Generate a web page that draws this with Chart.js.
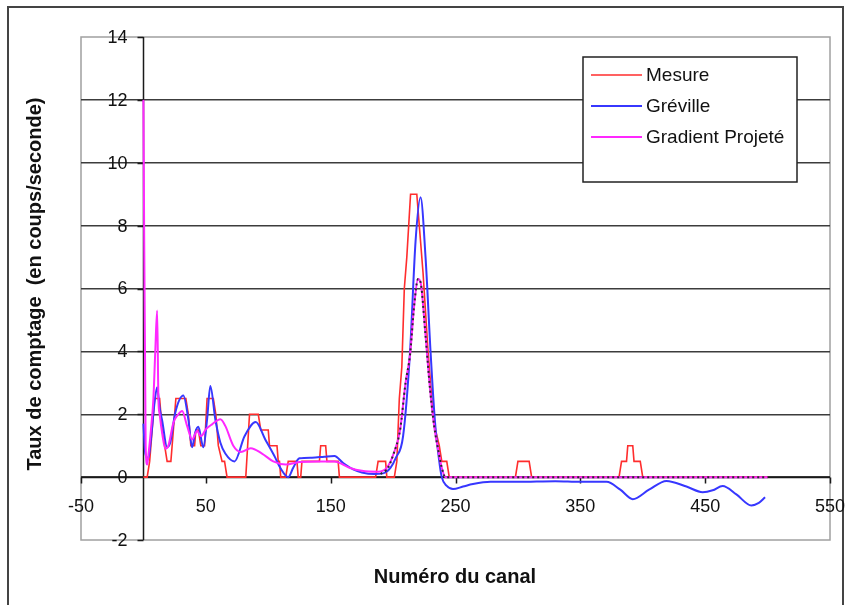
<!DOCTYPE html>
<html lang="fr">
<head>
<meta charset="UTF-8">
<title>Taux de comptage</title>
<script src="https://cdn.jsdelivr.net/npm/chart.js@4"></script>
<style>
  body { margin: 0; background: #fff; }
  #wrap { width: 850px; height: 605px; }
</style>
</head>
<body>
<div id="wrap"><canvas id="spectre"></canvas></div>
<script>
// [canal, taux] pairs for each curve
const mesure = [
  [0, 0], [3, 0], [5, 0.5], [7, 1.5], [9, 2.5], [13, 2.5], [15, 1.5], [17, 1.0], [19, 0.5], [22, 0.5],
  [24, 1.5], [26, 2.5], [34, 2.5], [36, 2.0], [38, 1.0], [41, 1.0], [42, 1.5], [44, 1.5], [46, 1.0],
  [49, 1.0], [51, 2.5], [56, 2.5], [58, 2.0], [60, 1.0], [63, 0.5], [65, 0.5], [67, 0], [82, 0],
  [85, 2.0], [92, 2.0], [94, 1.5], [100, 1.5], [101, 1.0], [107, 1.0], [108, 0.5], [109, 0.5],
  [110, 0], [114, 0], [116, 0.5], [123, 0.5], [124, 0], [126, 0], [127, 0.5], [141, 0.5], [142, 1.0],
  [146, 1.0], [147, 0.5], [156, 0.5], [157, 0], [186, 0], [188, 0.5], [194, 0.5], [195, 0], [201, 0],
  [203, 0.5], [205, 2.5], [207, 3.5], [209, 6], [211, 7], [214, 9], [219, 9], [221, 8], [224, 6.5],
  [228, 4], [232, 2], [234, 1.5], [237, 1.0], [239, 0.5], [243, 0.5], [245, 0], [298, 0], [300, 0.5],
  [309, 0.5], [311, 0], [381, 0], [383, 0.5], [387, 0.5], [388, 1.0], [392, 1.0], [393, 0.5],
  [398, 0.5], [400, 0], [500, 0]
];
const greville = [
  [0, 1.7], [1.5, 0.75], [4, 0.6], [6, 1.2], [9, 2.4], [11, 2.86], [13, 2.2], [15, 1.8], [19, 0.95],
  [21.5, 1.1], [25.5, 2.05], [32, 2.6], [36, 1.84], [39, 0.95], [41.5, 1.42], [44, 1.6], [48, 0.95],
  [51, 1.84], [53.6, 2.9], [57.6, 1.84], [61.6, 1.1], [65.6, 0.75], [73, 0.5], [81, 1.3], [90, 1.75],
  [97.6, 1.2], [105.6, 0.62], [109.6, 0.3], [116, 0], [120, 0.3], [125, 0.6], [135, 0.62], [145, 0.65],
  [153, 0.67], [160, 0.45], [168, 0.25], [175, 0.15], [185, 0.1], [192, 0.12], [198, 0.3], [202, 0.6],
  [208, 1.3], [213.6, 4.0], [218, 7.5], [222, 8.9], [226, 7.0], [230, 4.0], [233.6, 1.74], [237, 0.5],
  [239, 0], [243, -0.28], [248, -0.38], [256, -0.3], [264, -0.22], [278, -0.15], [300, -0.15],
  [330, -0.13], [350, -0.15], [371, -0.15], [382, -0.4], [392, -0.7], [405, -0.4], [419, -0.12],
  [435, -0.3], [448, -0.48], [456, -0.42], [464, -0.28], [475, -0.55], [487, -0.9], [493, -0.82],
  [498, -0.64]
];
const gradient = [
  [0, 12], [1.8, 1.0], [3, 0.4], [4, 0.7], [6, 1.5], [8, 2.5], [9.5, 4], [11, 5.3], [12, 2.5], [13, 2.0],
  [15, 1.4], [17.6, 0.9], [20, 1.0], [24, 1.73], [28, 2.0], [31, 2.1], [35, 1.63], [39, 1.2], [43, 1.47],
  [46, 1.3], [50, 1.52], [55, 1.68], [61.6, 1.84], [65.6, 1.63], [72, 1.0], [78, 0.8], [86, 0.92],
  [95, 0.75], [104, 0.5], [114, 0.4], [125, 0.48], [140, 0.5], [153, 0.5], [165, 0.3], [175, 0.2],
  [188, 0.17], [195, 0.3], [200, 0.7], [205.6, 1.5], [210, 3.0], [213.6, 3.9], [217, 5.5], [220, 6.3],
  [222, 6.2], [226, 4.5], [229.6, 2.8], [233, 1.6], [236, 0.9], [239, 0.3], [242, 0], [500, 0]
];
const ajustement = [
  [190, 0.1], [196, 0.3], [200, 0.7], [205.6, 1.5], [210, 3.0], [213.6, 3.9], [217, 5.5], [220, 6.3],
  [222, 6.2], [226, 4.5], [229.6, 2.8], [233, 1.6], [236, 0.9], [239, 0.3], [242, 0], [500, 0]
];

const xTicks = [-50, 50, 150, 250, 350, 450, 550];
const yTicks = [-2, 0, 2, 4, 6, 8, 10, 12, 14];
const serieNames = ["Mesure", "Gréville", "Gradient Projeté"];
const xTitle = "Numéro du canal";
const yTitle = "Taux de comptage  (en coups/seconde)";

const FONT = "'Liberation Sans', Arial, sans-serif";
const RED = "rgb(255, 45, 45)";
const BLUE = "rgb(55, 55, 255)";
const MAGENTA = "rgb(255, 40, 255)";

const toXY = arr => arr.map(p => ({ x: p[0], y: p[1] }));

// frame, plot border, axes through the origin, labels and the legend box
const decor = {
  id: "decor",
  beforeDraw(chart) {
    const c = chart.ctx, a = chart.chartArea;
    c.save();
    c.fillStyle = "#fff";
    c.fillRect(0, 0, chart.width, chart.height);
    c.strokeStyle = "#444";
    c.lineWidth = 2;
    c.strokeRect(8, 7, 835, 620);
    c.strokeStyle = "#a0a0a0";
    c.lineWidth = 1.5;
    c.strokeRect(a.left, a.top, a.right - a.left, a.bottom - a.top);
    c.restore();
  },
  beforeDatasetsDraw(chart) {
    const c = chart.ctx, a = chart.chartArea;
    const sx = chart.scales.x, sy = chart.scales.y;
    const x0 = Math.round(sx.getPixelForValue(0)) + 0.5;
    const y0 = Math.round(sy.getPixelForValue(0)) + 0.5;
    c.save();
    c.strokeStyle = "#1a1a1a";
    c.lineWidth = 1.5;
    c.beginPath();
    c.moveTo(x0, sy.getPixelForValue(14));
    c.lineTo(x0, sy.getPixelForValue(-2));
    c.moveTo(a.left, y0);
    c.lineTo(a.right, y0);
    yTicks.forEach(v => {
      const py = Math.round(sy.getPixelForValue(v)) + 0.5;
      c.moveTo(x0 - 6, py);
      c.lineTo(x0, py);
    });
    xTicks.forEach(v => {
      const px = Math.round(sx.getPixelForValue(v)) + 0.5;
      c.moveTo(px, y0);
      c.lineTo(px, y0 + 6);
    });
    c.stroke();
    c.restore();
  },
  afterDraw(chart) {
    const c = chart.ctx;
    const sx = chart.scales.x, sy = chart.scales.y;
    const x0 = sx.getPixelForValue(0);
    const y0 = sy.getPixelForValue(0);
    c.save();
    c.fillStyle = "#111";
    c.font = "18px " + FONT;
    c.textAlign = "right";
    c.textBaseline = "middle";
    yTicks.forEach(v => c.fillText(String(v), x0 - 16, sy.getPixelForValue(v) + 1));
    c.textAlign = "center";
    xTicks.forEach(v => c.fillText(String(v), sx.getPixelForValue(v), y0 + 30));

    c.font = "bold 20px " + FONT;
    c.fillText(xTitle, 455, 577);
    c.save();
    c.translate(35, 284);
    c.rotate(-Math.PI / 2);
    c.fillText(yTitle, 0, 0);
    c.restore();

    // legend
    const lx = 583, ly = 57, lw = 214, lh = 125;
    c.fillStyle = "#fff";
    c.fillRect(lx, ly, lw, lh);
    c.strokeStyle = "#222";
    c.lineWidth = 1.5;
    c.strokeRect(lx, ly, lw, lh);
    const colors = [RED, BLUE, MAGENTA];
    c.font = "19px " + FONT;
    c.textAlign = "left";
    serieNames.forEach((name, i) => {
      const yy = 75 + i * 31;
      c.strokeStyle = colors[i];
      c.lineWidth = i === 0 ? 1.6 : 2;
      c.beginPath();
      c.moveTo(591, yy);
      c.lineTo(642, yy);
      c.stroke();
      c.fillStyle = "#111";
      c.fillText(name, 646, yy + 1);
    });
    c.restore();
  }
};

const line = (label, pts, color, width, extra) => Object.assign({
  label: label,
  data: toXY(pts),
  borderColor: color,
  borderWidth: width,
  pointRadius: 0,
  fill: false
}, extra);

new Chart(document.getElementById("spectre"), {
  type: "line",
  data: {
    datasets: [
      line("", ajustement, "#2a2a2a", 2, { borderDash: [2, 3], cubicInterpolationMode: "monotone", order: 0 }),
      line(serieNames[2], gradient, MAGENTA, 2, { cubicInterpolationMode: "monotone", order: 1 }),
      line(serieNames[1], greville, BLUE, 2, { cubicInterpolationMode: "monotone", order: 2 }),
      line(serieNames[0], mesure, RED, 1.6, { tension: 0, order: 3 })
    ]
  },
  options: {
    responsive: true,
    maintainAspectRatio: false,
    animation: false,
    layout: { padding: { left: 81, top: 37, right: 20, bottom: 65 } },
    plugins: { legend: { display: false }, tooltip: { enabled: false } },
    scales: {
      x: {
        type: "linear",
        min: -50,
        max: 550,
        ticks: { display: false, stepSize: 100 },
        grid: { display: false },
        border: { display: false },
        afterFit: s => { s.height = 0; }
      },
      y: {
        min: -2,
        max: 14,
        ticks: { display: false, stepSize: 2 },
        grid: {
          drawTicks: false,
          lineWidth: 1.5,
          color: ctx => (ctx.tick && (ctx.tick.value === 14 || ctx.tick.value === -2)) ? "rgba(0,0,0,0)" : "#3c3c3c"
        },
        border: { display: false },
        afterFit: s => { s.width = 0; }
      }
    }
  },
  plugins: [decor]
});
</script>
</body>
</html>
